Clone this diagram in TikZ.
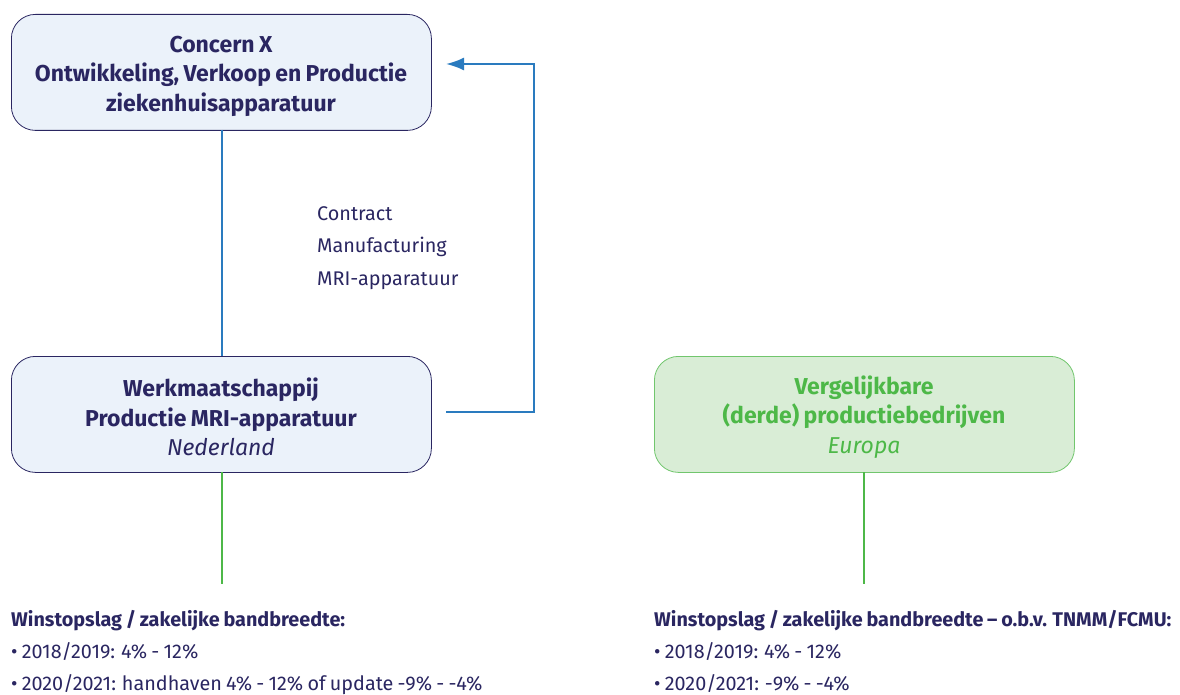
\documentclass[tikz,border=0pt]{standalone}
\usepackage{fontspec}
\setmainfont{Fira Sans}[WordSpace=0.8]
\usetikzlibrary{arrows.meta}
\definecolor{navy}{HTML}{2A2661}
\definecolor{boxblue}{HTML}{EBF2FA}
\definecolor{lineblue}{HTML}{2A7BBF}
\definecolor{boxgreen}{HTML}{D9EDD6}
\definecolor{linegreen}{HTML}{4DB848}
\begin{document}
\begin{tikzpicture}[x=1pt,y=-1pt,
  bluebox/.style={draw=navy,fill=boxblue,line width=0.8pt,rounded corners=24pt,minimum width=420pt,minimum height=116pt,anchor=north west,inner sep=0pt},
  greenbox/.style={draw=linegreen!80,fill=boxgreen,line width=0.8pt,rounded corners=24pt,minimum width=420pt,minimum height=116pt,anchor=north west,inner sep=0pt},
  boxtext/.style={font=\fontsize{23}{29.5}\selectfont\bfseries,align=center},
  bluecon/.style={draw=lineblue,line width=2pt},
  greencon/.style={draw=linegreen,line width=2pt},
  plain/.style={font=\fontsize{19.8}{32.5}\selectfont,text=navy,anchor=north west,align=left,inner sep=0pt},
  bottomtext/.style={plain,font=\fontsize{19.8}{32}\selectfont}
]
\useasboundingbox (0,0) rectangle (1180,695);
\node[bluebox] (concern) at (11,14) {};
\node[boxtext,text=navy] (concernt) at (221,76) {Concern X\\Ontwikkeling, Verkoop en Productie\\ziekenhuisapparatuur};
\node[bluebox] (werk) at (11,356) {};
\node[boxtext,text=navy] (werkt) at (221,417) {Werkmaatschappij\\Productie MRI-apparatuur\\{\mdseries\itshape Nederland}};
\node[greenbox] (verg) at (654,356) {};
\node[boxtext,text=linegreen] (vergt) at (864,417) {Vergelijkbare\\(derde) productiebedrijven\\{\mdseries\itshape Europa}};
\draw[bluecon] (222,130) -- (222,356);
\coordinate (arrs) at (446,412);
\coordinate (arre) at (446,64);
\draw[bluecon,-{Latex[length=18pt,width=13pt]}] (arrs) -- (534,412) -- (534,64) -- (arre);
\coordinate (gl) at (222,584);
\coordinate (gr) at (864,584);
\draw[greencon] (222,472) -- (gl);
\draw[greencon] (864,472) -- (gr);
\node[plain] (contract) at (317,206) {Contract\\Manufacturing\\MRI-apparatuur};
\node[bottomtext] (left) at (11,610) {{\bfseries Winstopslag / zakelijke bandbreedte:}\\\textbullet\ 2018/2019: 4\% - 12\%\\\textbullet\ 2020/2021: handhaven 4\% - 12\% of update -9\% - -4\%};
\node[bottomtext] (right) at (654,610) {{\bfseries Winstopslag / zakelijke bandbreedte – o.b.v. TNMM/FCMU:}\\\textbullet\ 2018/2019: 4\% - 12\%\\\textbullet\ 2020/2021: -9\% - -4\%};
\end{tikzpicture}
\end{document}
